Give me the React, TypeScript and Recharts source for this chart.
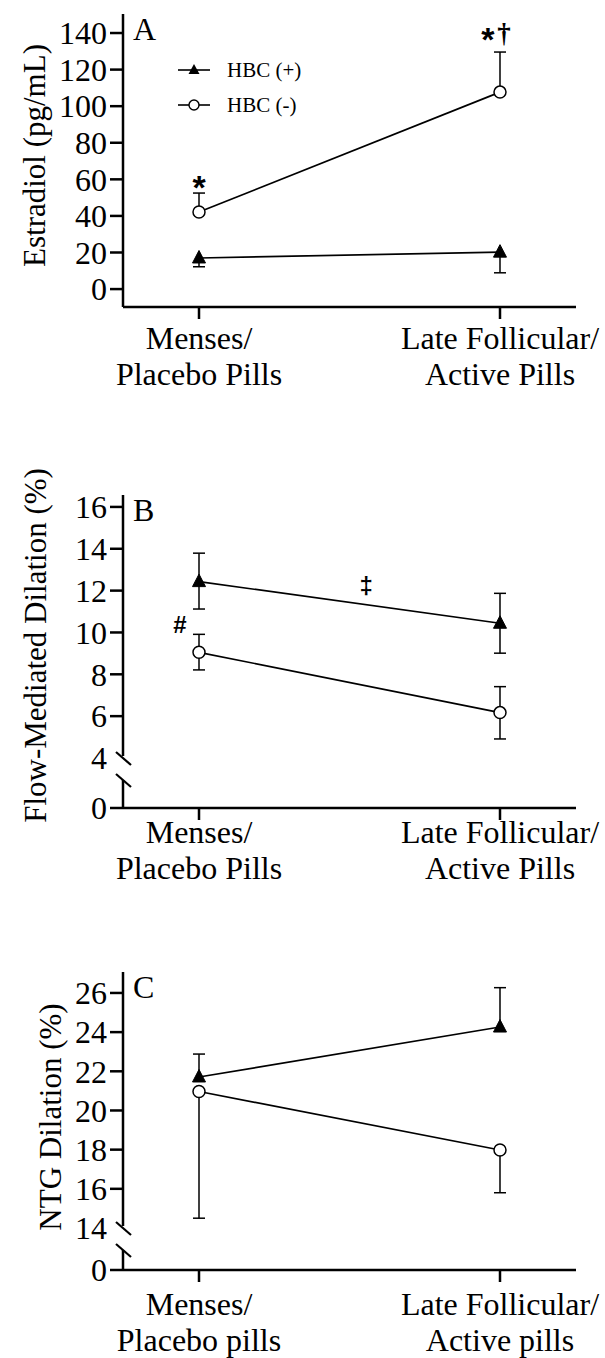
import React from 'react';
import { LineChart, Line, XAxis, YAxis, ErrorBar, ReferenceDot, Legend } from 'recharts';

const SERIF = '"Liberation Serif", "Times New Roman", serif';
const SANS = '"Liberation Sans", Arial, sans-serif';

// ---------- shared ----------
const X_POS = [0, 1];
const CATS_AB = [['Menses/', 'Placebo Pills'], ['Late Follicular/', 'Active Pills']];
const CATS_C = [['Menses/', 'Placebo pills'], ['Late Follicular/', 'Active pills']];
const SERIES_NAMES = ['HBC (+)', 'HBC (-)'];

// ---------- Panel A: Estradiol ----------
const A_POS_MEAN = [17.0, 20.2];
const A_POS_LO = [4.8, 11.3];
const A_POS_HI = [0, 0];
const A_NEG_MEAN = [42.1, 107.7];
const A_NEG_LO = [0, 0];
const A_NEG_HI = [10.4, 21.9];
const A_TICKS = [0, 20, 40, 60, 80, 100, 120, 140];
const A_DOMAIN = [-9.8, 150.4];
const A_NOTE_TEXT = ['*', '*', '†'];
const A_NOTE_X = [0, 0.96, 1.013];
const A_NOTE_Y = [60.2, 141.1, 138.9];

// ---------- Panel B: FMD ----------
const B_POS_MEAN = [12.43, 10.44];
const B_POS_LO = [1.31, 1.43];
const B_POS_HI = [1.36, 1.43];
const B_NEG_MEAN = [9.05, 6.17];
const B_NEG_LO = [0.84, 1.26];
const B_NEG_HI = [0.86, 1.24];
const B_ZERO = 1.61; // where "0" sits below the axis break
const B_TICKS = [B_ZERO, 4, 6, 8, 10, 12, 14, 16];
const B_BREAK = 4;
const B_DOMAIN = [B_ZERO, 16.57];
const B_NOTE_TEXT = ['‡', '#'];
const B_NOTE_X = [0.555, -0.063];
const B_NOTE_Y = [12.13, 10.36];

// ---------- Panel C: NTG ----------
const C_POS_MEAN = [21.71, 24.26];
const C_POS_LO = [0, 0];
const C_POS_HI = [1.17, 2.01];
const C_NEG_MEAN = [20.97, 17.98];
const C_NEG_LO = [6.47, 2.18];
const C_NEG_HI = [0, 0];
const C_ZERO = 11.855;
const C_TICKS = [C_ZERO, 14, 16, 18, 20, 22, 24, 26];
const C_BREAK = 14;
const C_DOMAIN = [C_ZERO, 27.07];
const C_NOTE_TEXT: string[] = [];
const C_NOTE_X: number[] = [];
const C_NOTE_Y: number[] = [];

const NOTE_STYLE: Record<string, { family: string; size: number; weight: number; c: number }> = {
  '*': { family: SANS, size: 34, weight: 700, c: 0.575 },
  '†': { family: SERIF, size: 27, weight: 700, c: 0.24 },
  '‡': { family: SANS, size: 24, weight: 700, c: 0.26 },
  '#': { family: SANS, size: 24, weight: 700, c: 0.35 },
};

const X_DOMAIN = [-0.2525, 1.2525];
const Y_AXIS_W = 123;
const Y_TICK_SIZE = 13;
const Y_TICK_MARGIN = 3;
const X_TICK_SIZE = 12;
const AXIS_SW = 2.5;
const LINE_SW = 1.7;

const Triangle = (props: any) => {
  const { cx, cy, index } = props;
  if (cx == null || cy == null || !isFinite(cx) || !isFinite(cy)) return <g key={`t${index}`} />;
  return (
    <polygon
      key={`t${index}`}
      points={`${cx},${cy - 7.5} ${cx - 6.5},${cy + 5} ${cx + 6.5},${cy + 5}`}
      fill="#000"
      stroke="#000"
      strokeWidth={1}
    />
  );
};

const Circle = (props: any) => {
  const { cx, cy, index } = props;
  if (cx == null || cy == null || !isFinite(cx) || !isFinite(cy)) return <g key={`c${index}`} />;
  return <circle key={`c${index}`} cx={cx} cy={cy} r={6} fill="#fff" stroke="#000" strokeWidth={1.5} />;
};

const Cap = (props: any) => {
  const { cx, cy, index } = props;
  if (cx == null || cy == null || !isFinite(cx) || !isFinite(cy)) return <g key={`k${index}`} />;
  return <line key={`k${index}`} x1={cx - 6} x2={cx + 6} y1={cy} y2={cy} stroke="#000" strokeWidth={1.5} />;
};

const makeYTick = (zero: number | null, brk: number | null) => (props: any) => {
  const { x, y, payload } = props;
  const axisX = x + Y_TICK_SIZE + Y_TICK_MARGIN;
  const v = payload.value;
  const label = zero !== null && v === zero ? '0' : String(v);
  return (
    <g>
      {brk !== null && v === brk && (
        <g>
          <rect x={axisX - 15} y={y - 2} width={18} height={24} fill="#fff" />
          <line x1={axisX - 7} y1={y - 6} x2={axisX + 8} y2={y + 7} stroke="#000" strokeWidth={2.2} />
          <line x1={axisX - 7} y1={y + 16} x2={axisX + 8} y2={y + 29} stroke="#000" strokeWidth={2.2} />
        </g>
      )}
      <text x={x} y={y} dy="0.35em" textAnchor="end" fontFamily={SERIF} fontSize={32} fill="#000">
        {label}
      </text>
    </g>
  );
};

const makeXTick = (cats: string[][], dy1: number) => (props: any) => {
  const { x, y, payload } = props;
  const lines = cats[payload.value] || ['', ''];
  return (
    <text x={x} y={y} textAnchor="middle" fontFamily={SERIF} fontSize={32} fill="#000">
      <tspan x={x} dy={dy1}>{lines[0]}</tspan>
      <tspan x={x} dy={36}>{lines[1]}</tspan>
    </text>
  );
};

const makeYLabel = (title: string, titleX: number, titleDy: number, letter: string) => (props: any) => {
  const vb = props.viewBox || { x: 0, y: 0, width: Y_AXIS_W, height: 0 };
  const cy = vb.y + vb.height / 2 + titleDy;
  return (
    <g>
      <text
        x={titleX}
        y={cy}
        transform={`rotate(-90 ${titleX} ${cy})`}
        textAnchor="middle"
        dominantBaseline="central"
        fontFamily={SERIF}
        fontSize={31}
        fill="#000"
      >
        {title}
      </text>
      <text x={vb.x + vb.width + 10} y={vb.y + 26} fontFamily={SERIF} fontSize={32} fill="#000">
        {letter}
      </text>
    </g>
  );
};

const makeNote = (text: string) => (props: any) => {
  const vb = props.viewBox || { x: 0, y: 0, width: 0, height: 0 };
  const cx = vb.x + (vb.width || 0) / 2;
  const cy = vb.y + (vb.height || 0) / 2;
  const st = NOTE_STYLE[text];
  return (
    <text
      x={cx}
      y={cy + st.c * st.size}
      textAnchor="middle"
      fontFamily={st.family}
      fontSize={st.size}
      fontWeight={st.weight}
      fill="#000"
    >
      {text}
    </text>
  );
};

const renderLegend = (props: any) => {
  const items = (props.payload || [])
    .filter((p: any) => p.dataKey === 's0' || p.dataKey === 's1')
    .sort((a: any, b: any) => (a.dataKey < b.dataKey ? -1 : 1));
  return (
    <div style={{ fontFamily: SERIF, fontSize: 21, color: '#000' }}>
      {items.map((it: any) => (
        <div key={it.dataKey} style={{ display: 'flex', alignItems: 'center', height: 35 }}>
          <svg width={32} height={16} style={{ marginRight: 17, display: 'block' }}>
            <line x1={0} y1={8} x2={32} y2={8} stroke="#000" strokeWidth={1.6} />
            {it.dataKey === 's0' ? (
              <polygon points="16,2 10.5,12 21.5,12" fill="#000" />
            ) : (
              <circle cx={16} cy={8} r={5} fill="#fff" stroke="#000" strokeWidth={1.4} />
            )}
          </svg>
          <span style={{ lineHeight: '35px', whiteSpace: 'nowrap' }}>{it.value}</span>
        </div>
      ))}
    </div>
  );
};

type SeriesCfg = { mean: number[]; lo: number[]; hi: number[]; marker: 'tri' | 'circ' };
type PanelCfg = {
  top: number;
  height: number;
  marginTop: number;
  xAxisHeight: number;
  domain: number[];
  ticks: number[];
  zero: number | null;
  brk: number | null;
  series: SeriesCfg[];
  noteText: string[];
  noteX: number[];
  noteY: number[];
  title: string;
  titleX: number;
  titleDy: number;
  letter: string;
  cats: string[][];
  labelDy: number;
  legend: boolean;
};

const PANELS: PanelCfg[] = [
  {
    top: 0,
    height: 420,
    marginTop: 14,
    xAxisHeight: 113,
    domain: A_DOMAIN,
    ticks: A_TICKS,
    zero: null,
    brk: null,
    series: [
      { mean: A_POS_MEAN, lo: A_POS_LO, hi: A_POS_HI, marker: 'tri' },
      { mean: A_NEG_MEAN, lo: A_NEG_LO, hi: A_NEG_HI, marker: 'circ' },
    ],
    noteText: A_NOTE_TEXT,
    noteX: A_NOTE_X,
    noteY: A_NOTE_Y,
    title: 'Estradiol (pg/mL)',
    titleX: 34,
    titleDy: -5,
    letter: 'A',
    cats: CATS_AB,
    labelDy: 30,
    legend: true,
  },
  {
    top: 430,
    height: 470,
    marginTop: 65,
    xAxisHeight: 92,
    domain: B_DOMAIN,
    ticks: B_TICKS,
    zero: B_ZERO,
    brk: B_BREAK,
    series: [
      { mean: B_POS_MEAN, lo: B_POS_LO, hi: B_POS_HI, marker: 'tri' },
      { mean: B_NEG_MEAN, lo: B_NEG_LO, hi: B_NEG_HI, marker: 'circ' },
    ],
    noteText: B_NOTE_TEXT,
    noteX: B_NOTE_X,
    noteY: B_NOTE_Y,
    title: 'Flow-Mediated Dilation (%)',
    titleX: 35,
    titleDy: -6,
    letter: 'B',
    cats: CATS_AB,
    labelDy: 23,
    legend: false,
  },
  {
    top: 890,
    height: 468,
    marginTop: 82,
    xAxisHeight: 88,
    domain: C_DOMAIN,
    ticks: C_TICKS,
    zero: C_ZERO,
    brk: C_BREAK,
    series: [
      { mean: C_POS_MEAN, lo: C_POS_LO, hi: C_POS_HI, marker: 'tri' },
      { mean: C_NEG_MEAN, lo: C_NEG_LO, hi: C_NEG_HI, marker: 'circ' },
    ],
    noteText: C_NOTE_TEXT,
    noteX: C_NOTE_X,
    noteY: C_NOTE_Y,
    title: 'NTG Dilation (%)',
    titleX: 50,
    titleDy: -4,
    letter: 'C',
    cats: CATS_C,
    labelDy: 33,
    legend: false,
  },
];

function Panel({ cfg }: { cfg: PanelCfg }) {
  const data = X_POS.map((x, i) => {
    const row: any = { x };
    cfg.series.forEach((s, k) => {
      const m = s.mean[i];
      const lo = s.lo[i];
      const hi = s.hi[i];
      row['s' + k] = m;
      row['e' + k] = [lo, hi];
      row['ch' + k] = hi > 0 ? m + hi : null;
      row['cl' + k] = lo > 0 ? m - lo : null;
    });
    return row;
  });

  return (
    <div style={{ position: 'absolute', left: 0, top: cfg.top, width: 605, height: cfg.height }}>
      <LineChart
        width={605}
        height={cfg.height}
        data={data}
        margin={{ top: cfg.marginTop, right: 29, bottom: 0, left: 0 }}
      >
        <XAxis
          dataKey="x"
          type="number"
          domain={X_DOMAIN}
          ticks={X_POS}
          interval={0}
          height={cfg.xAxisHeight}
          tickSize={X_TICK_SIZE}
          tickMargin={0}
          tick={makeXTick(cfg.cats, cfg.labelDy)}
          axisLine={{ stroke: '#000', strokeWidth: AXIS_SW }}
          tickLine={{ stroke: '#000', strokeWidth: AXIS_SW }}
        />
        <YAxis
          type="number"
          domain={cfg.domain}
          ticks={cfg.ticks}
          interval={0}
          width={Y_AXIS_W}
          tickSize={Y_TICK_SIZE}
          tickMargin={Y_TICK_MARGIN}
          tick={makeYTick(cfg.zero, cfg.brk)}
          axisLine={{ stroke: '#000', strokeWidth: AXIS_SW }}
          tickLine={{ stroke: '#000', strokeWidth: AXIS_SW }}
          label={makeYLabel(cfg.title, cfg.titleX, cfg.titleDy, cfg.letter)}
        />
        {cfg.series.map((s, k) => (
          <Line
            key={'s' + k}
            dataKey={'s' + k}
            name={SERIES_NAMES[k]}
            stroke="#000"
            strokeWidth={LINE_SW}
            dot={s.marker === 'tri' ? Triangle : Circle}
            activeDot={false}
            isAnimationActive={false}
          >
            <ErrorBar dataKey={'e' + k} width={0} stroke="#000" strokeWidth={1.5} direction="y" />
          </Line>
        ))}
        {cfg.series.map((s, k) => (
          <Line
            key={'ch' + k}
            dataKey={'ch' + k}
            stroke="none"
            dot={Cap}
            activeDot={false}
            legendType="none"
            isAnimationActive={false}
          />
        ))}
        {cfg.series.map((s, k) => (
          <Line
            key={'cl' + k}
            dataKey={'cl' + k}
            stroke="none"
            dot={Cap}
            activeDot={false}
            legendType="none"
            isAnimationActive={false}
          />
        ))}
        {cfg.noteText.map((t, i) => (
          <ReferenceDot
            key={'n' + i}
            x={cfg.noteX[i]}
            y={cfg.noteY[i]}
            r={0}
            fill="none"
            stroke="none"
            label={makeNote(t)}
          />
        ))}
        {cfg.legend && (
          <Legend
            layout="horizontal"
            verticalAlign="middle"
            align="center"
            content={renderLegend}
            wrapperStyle={{ top: 52.5, left: 178, width: 200, height: 70 }}
          />
        )}
      </LineChart>
    </div>
  );
}

export default function App() {
  return (
    <div style={{ position: 'absolute', left: 0, top: 0, width: 605, height: 1358, background: '#fff', overflow: 'hidden' }}>
      {PANELS.map((cfg, i) => (
        <Panel key={i} cfg={cfg} />
      ))}
    </div>
  );
}
